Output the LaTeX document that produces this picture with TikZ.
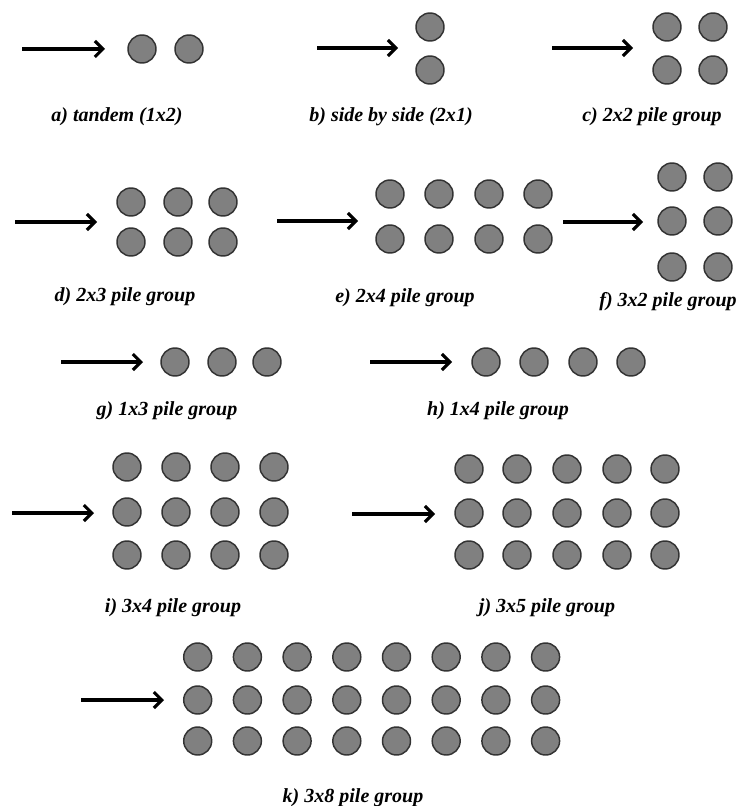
\documentclass[tikz,border=0pt]{standalone}
\usepackage{fontspec}
\setmainfont{Liberation Serif}
\usetikzlibrary{arrows.meta}

\begin{document}
\begin{tikzpicture}[x=0.75pt, y=-0.75pt,
  pile/.style={circle, draw=black!80, fill=black!50, line width=1.1pt, minimum size=21pt, inner sep=0pt},
  flow/.style={line width=2.3pt, -{Straight Barb[length=6pt,width=12pt]}},
  caption/.style={font=\fontsize{15}{17}\selectfont\bfseries\itshape, inner sep=0pt}]
\useasboundingbox (0,0) rectangle (749,806);
% a) tandem
\coordinate (a-in) at (22,49); \coordinate (a-out) at (105,49);
\foreach \c/\x in {1/142,2/189} \node[pile] (a-1-\c) at (\x,49) {};
\node[caption] (a-lab) at (117,117) {a) tandem (1x2)};
% b) side by side
\coordinate (b-in) at (317,48); \coordinate (b-out) at (398,48);
\foreach \r/\y in {1/27,2/70} \node[pile] (b-\r-1) at (430,\y) {};
\node[caption] (b-lab) at (391,117) {b) side by side (2x1)};
% c) 2x2
\coordinate (c-in) at (552,48); \coordinate (c-out) at (633,48);
\foreach \r/\y in {1/27,2/70} \foreach \c/\x in {1/667,2/713} \node[pile] (c-\r-\c) at (\x,\y) {};
\node[caption] (c-lab) at (652,117) {c) 2x2 pile group};
% d) 2x3
\coordinate (d-in) at (15,222); \coordinate (d-out) at (97,222);
\foreach \r/\y in {1/202,2/242} \foreach \c/\x in {1/131,2/178,3/223} \node[pile] (d-\r-\c) at (\x,\y) {};
\node[caption] (d-lab) at (125,297) {d) 2x3 pile group};
% e) 2x4
\coordinate (e-in) at (277,221); \coordinate (e-out) at (358,221);
\foreach \r/\y in {1/194,2/239} \foreach \c/\x in {1/390,2/439,3/489,4/538} \node[pile] (e-\r-\c) at (\x,\y) {};
\node[caption] (e-lab) at (405,298) {e) 2x4 pile group};
% f) 3x2
\coordinate (f-in) at (563,222); \coordinate (f-out) at (643,222);
\foreach \r/\y in {1/177,2/221,3/267} \foreach \c/\x in {1/672,2/718} \node[pile] (f-\r-\c) at (\x,\y) {};
\node[caption] (f-lab) at (668,302) {f) 3x2 pile group};
% g) 1x3
\coordinate (g-in) at (61,362); \coordinate (g-out) at (143,362);
\foreach \c/\x in {1/175,2/222,3/267} \node[pile] (g-1-\c) at (\x,362) {};
\node[caption] (g-lab) at (167,411) {g) 1x3 pile group};
% h) 1x4
\coordinate (h-in) at (370,362); \coordinate (h-out) at (452,362);
\foreach \c/\x in {1/486,2/534,3/583,4/631} \node[pile] (h-1-\c) at (\x,362) {};
\node[caption] (h-lab) at (498,411) {h) 1x4 pile group};
% i) 3x4
\coordinate (i-in) at (12,513); \coordinate (i-out) at (94,513);
\foreach \r/\y in {1/467,2/512,3/555} \foreach \c/\x in {1/127,2/176,3/225,4/274} \node[pile] (i-\r-\c) at (\x,\y) {};
\node[caption] (i-lab) at (173,608) {i) 3x4 pile group};
% j) 3x5
\coordinate (j-in) at (352,514); \coordinate (j-out) at (435,514);
\foreach \r/\y in {1/469,2/513,3/555} \foreach \c/\x in {1/469,2/517,3/567,4/617,5/665} \node[pile] (j-\r-\c) at (\x,\y) {};
\node[caption] (j-lab) at (547,608) {j) 3x5 pile group};
% k) 3x8
\coordinate (k-in) at (81,700); \coordinate (k-out) at (164,700);
\foreach \r/\y in {1/657,2/700,3/741} \foreach \c in {1,...,8} \node[pile] (k-\r-\c) at ({148+49.7*\c},\y) {};
\node[caption] (k-lab) at (353,798) {k) 3x8 pile group};
% flow direction
\foreach \g in {a,...,k} \draw[flow] (\g-in) -- (\g-out);
\end{tikzpicture}
\end{document}
